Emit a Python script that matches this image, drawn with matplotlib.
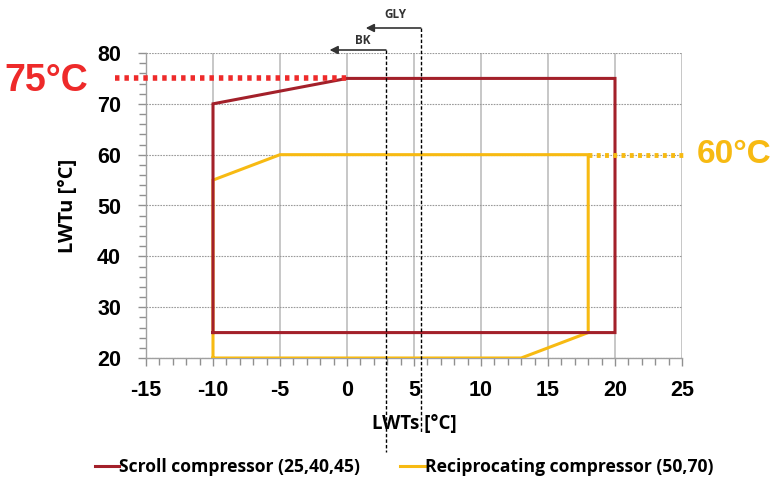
import matplotlib
matplotlib.use("Agg")
import matplotlib.pyplot as plt
from matplotlib.ticker import MultipleLocator

plt.rcParams["axes.unicode_minus"] = False

# Data
scroll_x = [-10, -10, 0, 20, 20, -10]
scroll_y = [25, 70, 75, 75, 25, 25]
recip_x = [-10, -10, -5, 18, 18, 13, -10]
recip_y = [20, 55, 60, 60, 25, 20, 20]
bk_x = 2.9
gly_x = 5.5
scroll_label = "Scroll compressor (25,40,45)"
recip_label = "Reciprocating compressor (50,70)"
scroll_max = 75
recip_max = 60

RED = "#A3202A"
GOLD = "#F7BA12"
BRIGHT_RED = "#EE2A2A"

fig = plt.figure(figsize=(7.76, 4.8), dpi=100)
ax = fig.add_axes([146/776, 1-358/480, (682-146)/776, (358-53)/480])

ax.set_xlim(-15, 25)
ax.set_ylim(20, 80)
ax.xaxis.set_major_locator(MultipleLocator(5))
ax.xaxis.set_minor_locator(MultipleLocator(1))
ax.yaxis.set_major_locator(MultipleLocator(10))
ax.yaxis.set_minor_locator(MultipleLocator(2))
ax.grid(True, axis="x", which="major", color="#BDBDBD", linewidth=1.2, linestyle="-")
ax.grid(True, axis="y", which="major", color="#9A9A9A", linewidth=0.8, linestyle=(0, (1.5, 1)))
ax.set_axisbelow(True)
for s in ["top", "right"]:
    ax.spines[s].set_visible(False)
for s in ["left", "bottom"]:
    ax.spines[s].set_color("#A0A0A0")
    ax.spines[s].set_linewidth(1.0)
ax.tick_params(axis="both", which="both", color="#909090", direction="out")
ax.tick_params(axis="both", which="major", length=6, width=1)
ax.tick_params(axis="both", which="minor", length=5, width=1)
ax.tick_params(axis="x", which="major", pad=10)
ax.tick_params(axis="y", which="major", pad=12)
for lab in ax.get_xticklabels() + ax.get_yticklabels():
    lab.set_fontfamily("Liberation Sans")
    lab.set_fontweight("bold")
    lab.set_fontsize(15.5)

ax.set_xlabel("LWTs [°C]", fontfamily="Open Sans", fontweight="bold", fontsize=13.5, labelpad=9)
ax.set_ylabel("LWTu [°C]", fontfamily="Open Sans", fontweight="bold", fontsize=14.5, labelpad=14)

l1, = ax.plot(scroll_x, scroll_y, color=RED, linewidth=2.2, zorder=4, solid_joinstyle="miter")
l2, = ax.plot(recip_x, recip_y, color=GOLD, linewidth=2.2, zorder=3, solid_joinstyle="miter")

# 75°C marker line
ax.plot([-17.3, 0.2], [scroll_max, scroll_max], color=BRIGHT_RED, linewidth=4,
        linestyle=(0, (0.8, 0.9)), clip_on=False, zorder=5)
ax.text(-19.3, scroll_max - 0.5, "75°C", color=BRIGHT_RED, fontsize=27, fontweight="bold",
        fontfamily="Liberation Sans", ha="right", va="center", clip_on=False)

# 60°C marker line
ax.plot([18.0, 25.3], [recip_max, recip_max], color=GOLD, linewidth=3.5,
        linestyle=(0, (0.8, 0.9)), clip_on=False, zorder=5)
ax.text(26.1, recip_max, "60°C", color=GOLD, fontsize=24, fontweight="bold",
        fontfamily="Liberation Sans", ha="left", va="center", clip_on=False)

# BK / GLY dashed vertical lines with arrows (y in data units beyond axes)
def ypx(p):
    return 20 + (358 - p) / (358 - 53) * 60

ax.plot([bk_x, bk_x], [ypx(50), ypx(452)], color="black", linewidth=1,
        linestyle=(0, (2.5, 1.5)), clip_on=False, zorder=6)
ax.plot([gly_x, gly_x], [ypx(28), ypx(432)], color="black", linewidth=1,
        linestyle=(0, (2.5, 1.5)), clip_on=False, zorder=6)
ax.annotate("", xy=(bk_x - 4.2, ypx(50)), xytext=(bk_x, ypx(50)),
            arrowprops=dict(arrowstyle="-|>", color="#333333", lw=1.2,
                            mutation_scale=12, shrinkA=0, shrinkB=0),
            annotation_clip=False)
ax.annotate("", xy=(gly_x - 4.1, ypx(28)), xytext=(gly_x, ypx(28)),
            arrowprops=dict(arrowstyle="-|>", color="#333333", lw=1.2,
                            mutation_scale=12, shrinkA=0, shrinkB=0),
            annotation_clip=False)
ax.text(bk_x - 1.7, ypx(40), "BK", fontsize=8.5, fontweight="bold", color="#333333",
        fontfamily="Open Sans", ha="center", va="center", clip_on=False)
ax.text(gly_x - 1.9, ypx(15), "GLY", fontsize=8.5, fontweight="bold", color="#333333",
        fontfamily="Open Sans", ha="center", va="center", clip_on=False)

leg = fig.legend([l1, l2], [scroll_label, recip_label], loc="center",
                 bbox_to_anchor=(404/776, 1-467/480), ncol=2, frameon=False,
                 handlelength=1.4, handletextpad=0.0, columnspacing=2.3,
                 prop=dict(family="Open Sans", weight="bold", size=12.6))

fig.savefig("out.png", dpi=100)
